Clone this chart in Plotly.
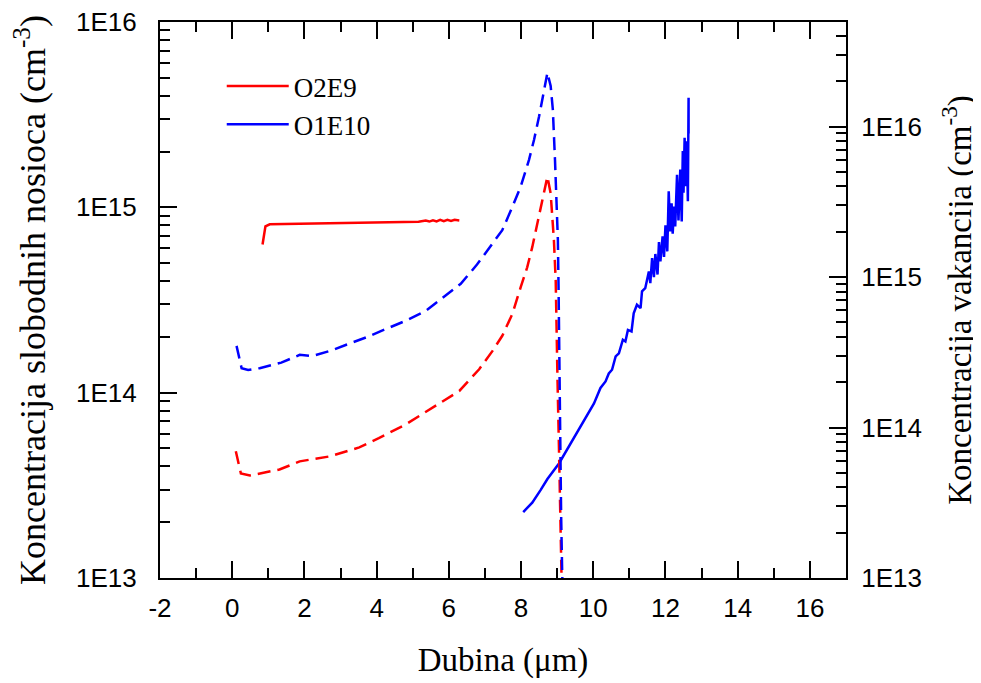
import plotly.graph_objects as go

# ---- Data ----
# Free-carrier concentration, O2E9 (left axis)
o2e9_x = [0.84, 0.92, 1.04, 1.31, 1.86, 2.36, 2.96, 3.46, 4.06, 4.56, 4.96, 5.16, 5.36, 5.46, 5.56, 5.66,
          5.76, 5.86, 5.96, 6.06, 6.16, 6.29]
o2e9_y = [6.3e14, 7.9e14, 8.1e14, 8.12e14, 8.1e14, 8.15e14, 8.2e14, 8.25e14, 8.3e14, 8.35e14, 8.4e14, 8.36e14,
          8.48e14, 8.38e14, 8.52e14, 8.4e14, 8.55e14, 8.42e14, 8.56e14, 8.44e14, 8.56e14, 8.5e14]

# Free-carrier concentration, O1E10 (left axis)
o1e10_x = [8.06, 8.31, 8.54, 8.73, 9.05, 9.23, 9.51, 9.79, 10.02, 10.20, 10.34, 10.43, 10.52, 10.62, 10.71,
           10.82, 10.89, 10.96, 11.06, 11.12, 11.21, 11.31, 11.35, 11.44, 11.54, 11.58, 11.63, 11.68, 11.72,
           11.78, 11.82, 11.86, 11.92, 11.96, 12.00, 12.05, 12.09, 12.13, 12.17, 12.20, 12.24, 12.27, 12.32,
           12.36, 12.41, 12.45, 12.48, 12.50, 12.53, 12.56, 12.59, 12.62, 12.64, 12.64]
o1e10_y = [2.27e13, 2.55e13, 2.98e13, 3.42e13, 4.15e13, 4.76e13, 5.91e13, 7.26e13, 8.75e13, 1.06e14, 1.15e14,
           1.27e14, 1.33e14, 1.57e14, 1.63e14, 1.93e14, 1.89e14, 2.18e14, 2.14e14, 2.68e14, 2.98e14, 2.86e14,
           3.52e14, 3.66e14, 4.51e14, 3.90e14, 5.32e14, 4.2e14, 5.6e14, 4.34e14, 6.5e14, 5.11e14, 6.97e14,
           5.4e14, 8.0e14, 5.78e14, 1.22e15, 7.42e14, 1.05e15, 7.2e14, 1.01e15, 7.89e14, 1.50e15, 8.5e14,
           1.6e15, 8.40e14, 2.01e15, 1.2e15, 2.37e15, 1.30e15, 2.27e15, 1.08e15, 3.90e15, 2.5e15]

# Vacancy concentration, O2E9 (right axis)
vac_o2e9_x = [0.10, 0.24, 0.49, 0.76, 1.31, 1.87, 2.70, 3.52, 4.06, 4.81, 5.37, 6.29, 6.84, 7.21, 7.48, 7.76,
              7.99, 8.17, 8.31, 8.45, 8.59, 8.68, 8.73, 8.82, 8.88, 8.91, 8.96, 8.97, 9.01, 9.05, 9.08, 9.11, 9.13]
vac_o2e9_y = [6.95e13, 4.95e13, 4.80e13, 4.95e13, 5.26e13, 5.96e13, 6.43e13, 7.38e13, 8.5e13, 1.05e14, 1.28e14,
              1.75e14, 2.44e14, 3.23e14, 4.07e14, 5.69e14, 8.56e14, 1.16e15, 1.58e15, 2.27e15, 3.25e15, 4.20e15,
              4.65e15, 3.60e15, 2.39e15, 1.76e15, 9.49e14, 5.71e14, 2.04e14, 7.31e13, 2.64e13, 1.05e13, 8.0e12]

# Vacancy concentration, O1E10 (right axis)
vac_o1e10_x = [0.12, 0.26, 0.44, 0.76, 1.36, 1.87, 2.23, 2.78, 3.16, 3.71, 4.26, 4.81, 5.37, 5.92, 6.33, 6.78,
               7.21, 7.48, 7.76, 7.99, 8.22, 8.36, 8.50, 8.63, 8.73, 8.82, 8.88, 8.94, 8.97, 9.02, 9.04, 9.06,
               9.08, 9.11, 9.14, 9.16]
vac_o1e10_y = [3.49e14, 2.48e14, 2.41e14, 2.48e14, 2.70e14, 3.04e14, 2.99e14, 3.27e14, 3.55e14, 3.97e14, 4.52e14,
               5.13e14, 5.98e14, 7.54e14, 9.02e14, 1.21e15, 1.68e15, 2.05e15, 2.93e15, 3.99e15, 6.01e15, 8.18e15,
               1.17e16, 1.76e16, 2.28e16, 1.86e16, 1.30e16, 6.01e15, 3.60e15, 1.76e15, 8.14e14, 2.04e14,
               7.31e13, 2.62e13, 1.05e13, 8.0e12]

x_tick_vals = [-2, 0, 2, 4, 6, 8, 10, 12, 14, 16]
x_tick_text = ["-2", "0", "2", "4", "6", "8", "10", "12", "14", "16"]
y_tick_vals = [1e13, 1e14, 1e15, 1e16]
y_tick_text = ["1E13", "1E14", "1E15", "1E16"]

# ---- Figure ----
LW = 2.5
DASH = "13px,7px"
fig = go.Figure()
fig.add_trace(go.Scatter(x=o2e9_x, y=o2e9_y, mode="lines", name="O2E9",
                         line=dict(color="#ff0000", width=LW)))
fig.add_trace(go.Scatter(x=o1e10_x, y=o1e10_y, mode="lines", name="O1E10",
                         line=dict(color="#0000ff", width=LW)))
fig.add_trace(go.Scatter(x=vac_o2e9_x, y=vac_o2e9_y, mode="lines", showlegend=False, yaxis="y2",
                         line=dict(color="#ff0000", width=LW, dash=DASH)))
fig.add_trace(go.Scatter(x=vac_o1e10_x, y=vac_o1e10_y, mode="lines", showlegend=False, yaxis="y2",
                         line=dict(color="#0000ff", width=LW, dash=DASH)))

tickfont = dict(family="Liberation Sans, Arial", size=26, color="black")
serif = "Liberation Serif, Times New Roman"
minor_common = dict(ticks="inside", ticklen=10, tickwidth=2, tickcolor="black", showgrid=False)

# The page body has an 8px default margin, so the figure is sized 8px smaller
fig.update_layout(
    width=973, height=675,
    margin=dict(l=152, r=135, t=14, b=105),
    paper_bgcolor="white", plot_bgcolor="white",
    showlegend=True,
    legend=dict(x=0.09, y=0.928, xanchor="left", yanchor="top", bgcolor="rgba(0,0,0,0)",
                font=dict(family=serif, size=27, color="black"),
                itemwidth=62, tracegroupgap=0),
    xaxis=dict(range=[-2, 17], tickvals=x_tick_vals, ticktext=x_tick_text, ticks="inside", ticklen=17,
               tickwidth=2, tickcolor="black", showline=True, linewidth=2, linecolor="black", mirror="ticks",
               showgrid=False, zeroline=False, tickfont=tickfont, ticklabelstandoff=6, automargin=False,
               ticklabeloverflow="allow",
               minor=dict(dtick=1, tick0=0, **minor_common),
               title=dict(text="Dubina (\u03bcm)", font=dict(family=serif, size=33, color="black"), standoff=26)),
    yaxis=dict(type="log", range=[13, 16], tickvals=y_tick_vals, ticktext=y_tick_text,
               ticks="inside", ticklen=17, tickwidth=2, tickcolor="black",
               showline=True, linewidth=2, linecolor="black", showgrid=False, zeroline=False,
               tickfont=tickfont, ticklabelstandoff=16, automargin=False, ticklabeloverflow="allow",
               minor=dict(dtick="D1", **minor_common),
               title=dict(text="Koncentracija slobodnih nosioca (cm<sup>-3</sup>)",
                          font=dict(family=serif, size=36, color="black"), standoff=50)),
    yaxis2=dict(type="log", range=[13, 16.695], overlaying="y", side="right", anchor="x",
                tickvals=y_tick_vals, ticktext=y_tick_text,
                ticks="inside", ticklen=17, tickwidth=2, tickcolor="black",
                showline=True, linewidth=2, linecolor="black", showgrid=False, zeroline=False,
                tickfont=tickfont, ticklabelstandoff=8, automargin=False, ticklabeloverflow="allow",
                minor=dict(dtick="D1", **minor_common),
                title=dict(text="Koncentracija vakancija (cm<sup>-3</sup>)",
                           font=dict(family=serif, size=33, color="black"), standoff=27)),
)

fig.write_html("out.html")
